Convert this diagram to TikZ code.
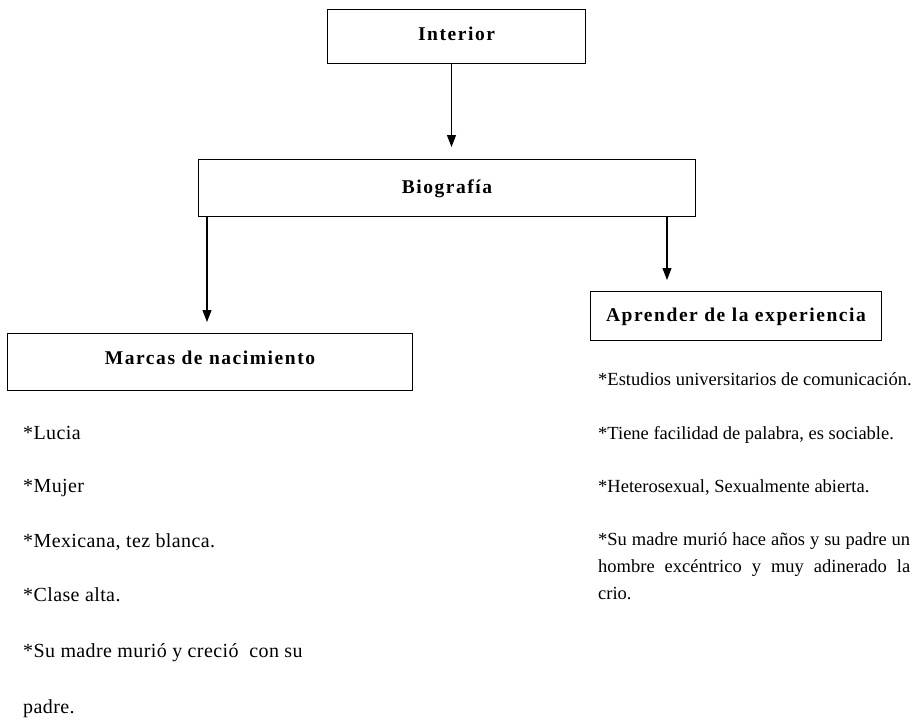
\documentclass[tikz,border=0pt]{standalone}
\usepackage{fontspec}
\setmainfont{Liberation Serif}
\newfontfamily\headfont[LetterSpace=8]{Liberation Serif}
\newfontfamily\leftfont[LetterSpace=2]{Liberation Serif}
\usetikzlibrary{arrows.meta}
\begin{document}
\begin{tikzpicture}[x=1pt,y=-1pt,
  box/.style={draw, line width=1pt, rectangle, inner sep=0pt, anchor=north west,
              font=\headfont\bfseries\fontsize{19.5}{23}\selectfont},
  arr/.style={-{Triangle[length=12pt,width=9pt]}, line width=1.1pt},
  lbody/.style={font=\leftfont\fontsize{20}{27}\selectfont, inner sep=0pt, anchor=base west},
  rbody/.style={font=\fontsize{18.5}{27}\selectfont, inner sep=0pt, anchor=base west}]
\useasboundingbox (0,0) rectangle (916,726);

\node[box, minimum width=258pt, minimum height=54pt, text depth=6pt] (interior) at (327,9) {Interior};
\node[box, minimum width=497pt, minimum height=57pt, text depth=2pt] (bio) at (198,159) {Biografía};
\node[box, minimum width=405pt, minimum height=57pt, text depth=8pt] (marcas) at (7,333) {Marcas de nacimiento};
\node[box, minimum width=291pt, minimum height=49pt, text depth=3pt] (aprender) at (590,291) {Aprender de la experiencia};

\draw[arr, shorten >=12pt] ([xshift=-5pt]interior.south) -- ([xshift=-5pt]interior.south |- bio.north);
\draw[arr, shorten >=11pt] ([xshift=9pt]bio.south west) -- ([xshift=9pt]bio.south west |- marcas.north);
\draw[arr, shorten >=11pt] ([xshift=-29pt]bio.south east) -- ([xshift=-29pt]bio.south east |- aprender.north);

\node[lbody] (l1) at (23,439) {*Lucia};
\node[lbody] (l2) at (23,492) {*Mujer};
\node[lbody] (l3) at (23,547) {*Mexicana, tez blanca.};
\node[lbody] (l4) at (23,601) {*Clase alta.};
\node[lbody] (l5) at (23,657) {*Su madre murió y creció \ con su};
\node[lbody] (l6) at (23,713) {padre.};

\node[rbody] (r1) at (598,385) {*Estudios universitarios de comunicación.};
\node[rbody] (r2) at (598,439) {*Tiene facilidad de palabra, es sociable.};
\node[rbody] (r3) at (598,492) {*Heterosexual, Sexualmente abierta.};
\node[rbody, text width=312pt, align=justify] (r4) at (598,545)
  {*Su madre murió hace años y su padre un\linebreak hombre excéntrico y muy adinerado la\linebreak crio.};
\end{tikzpicture}
\end{document}
